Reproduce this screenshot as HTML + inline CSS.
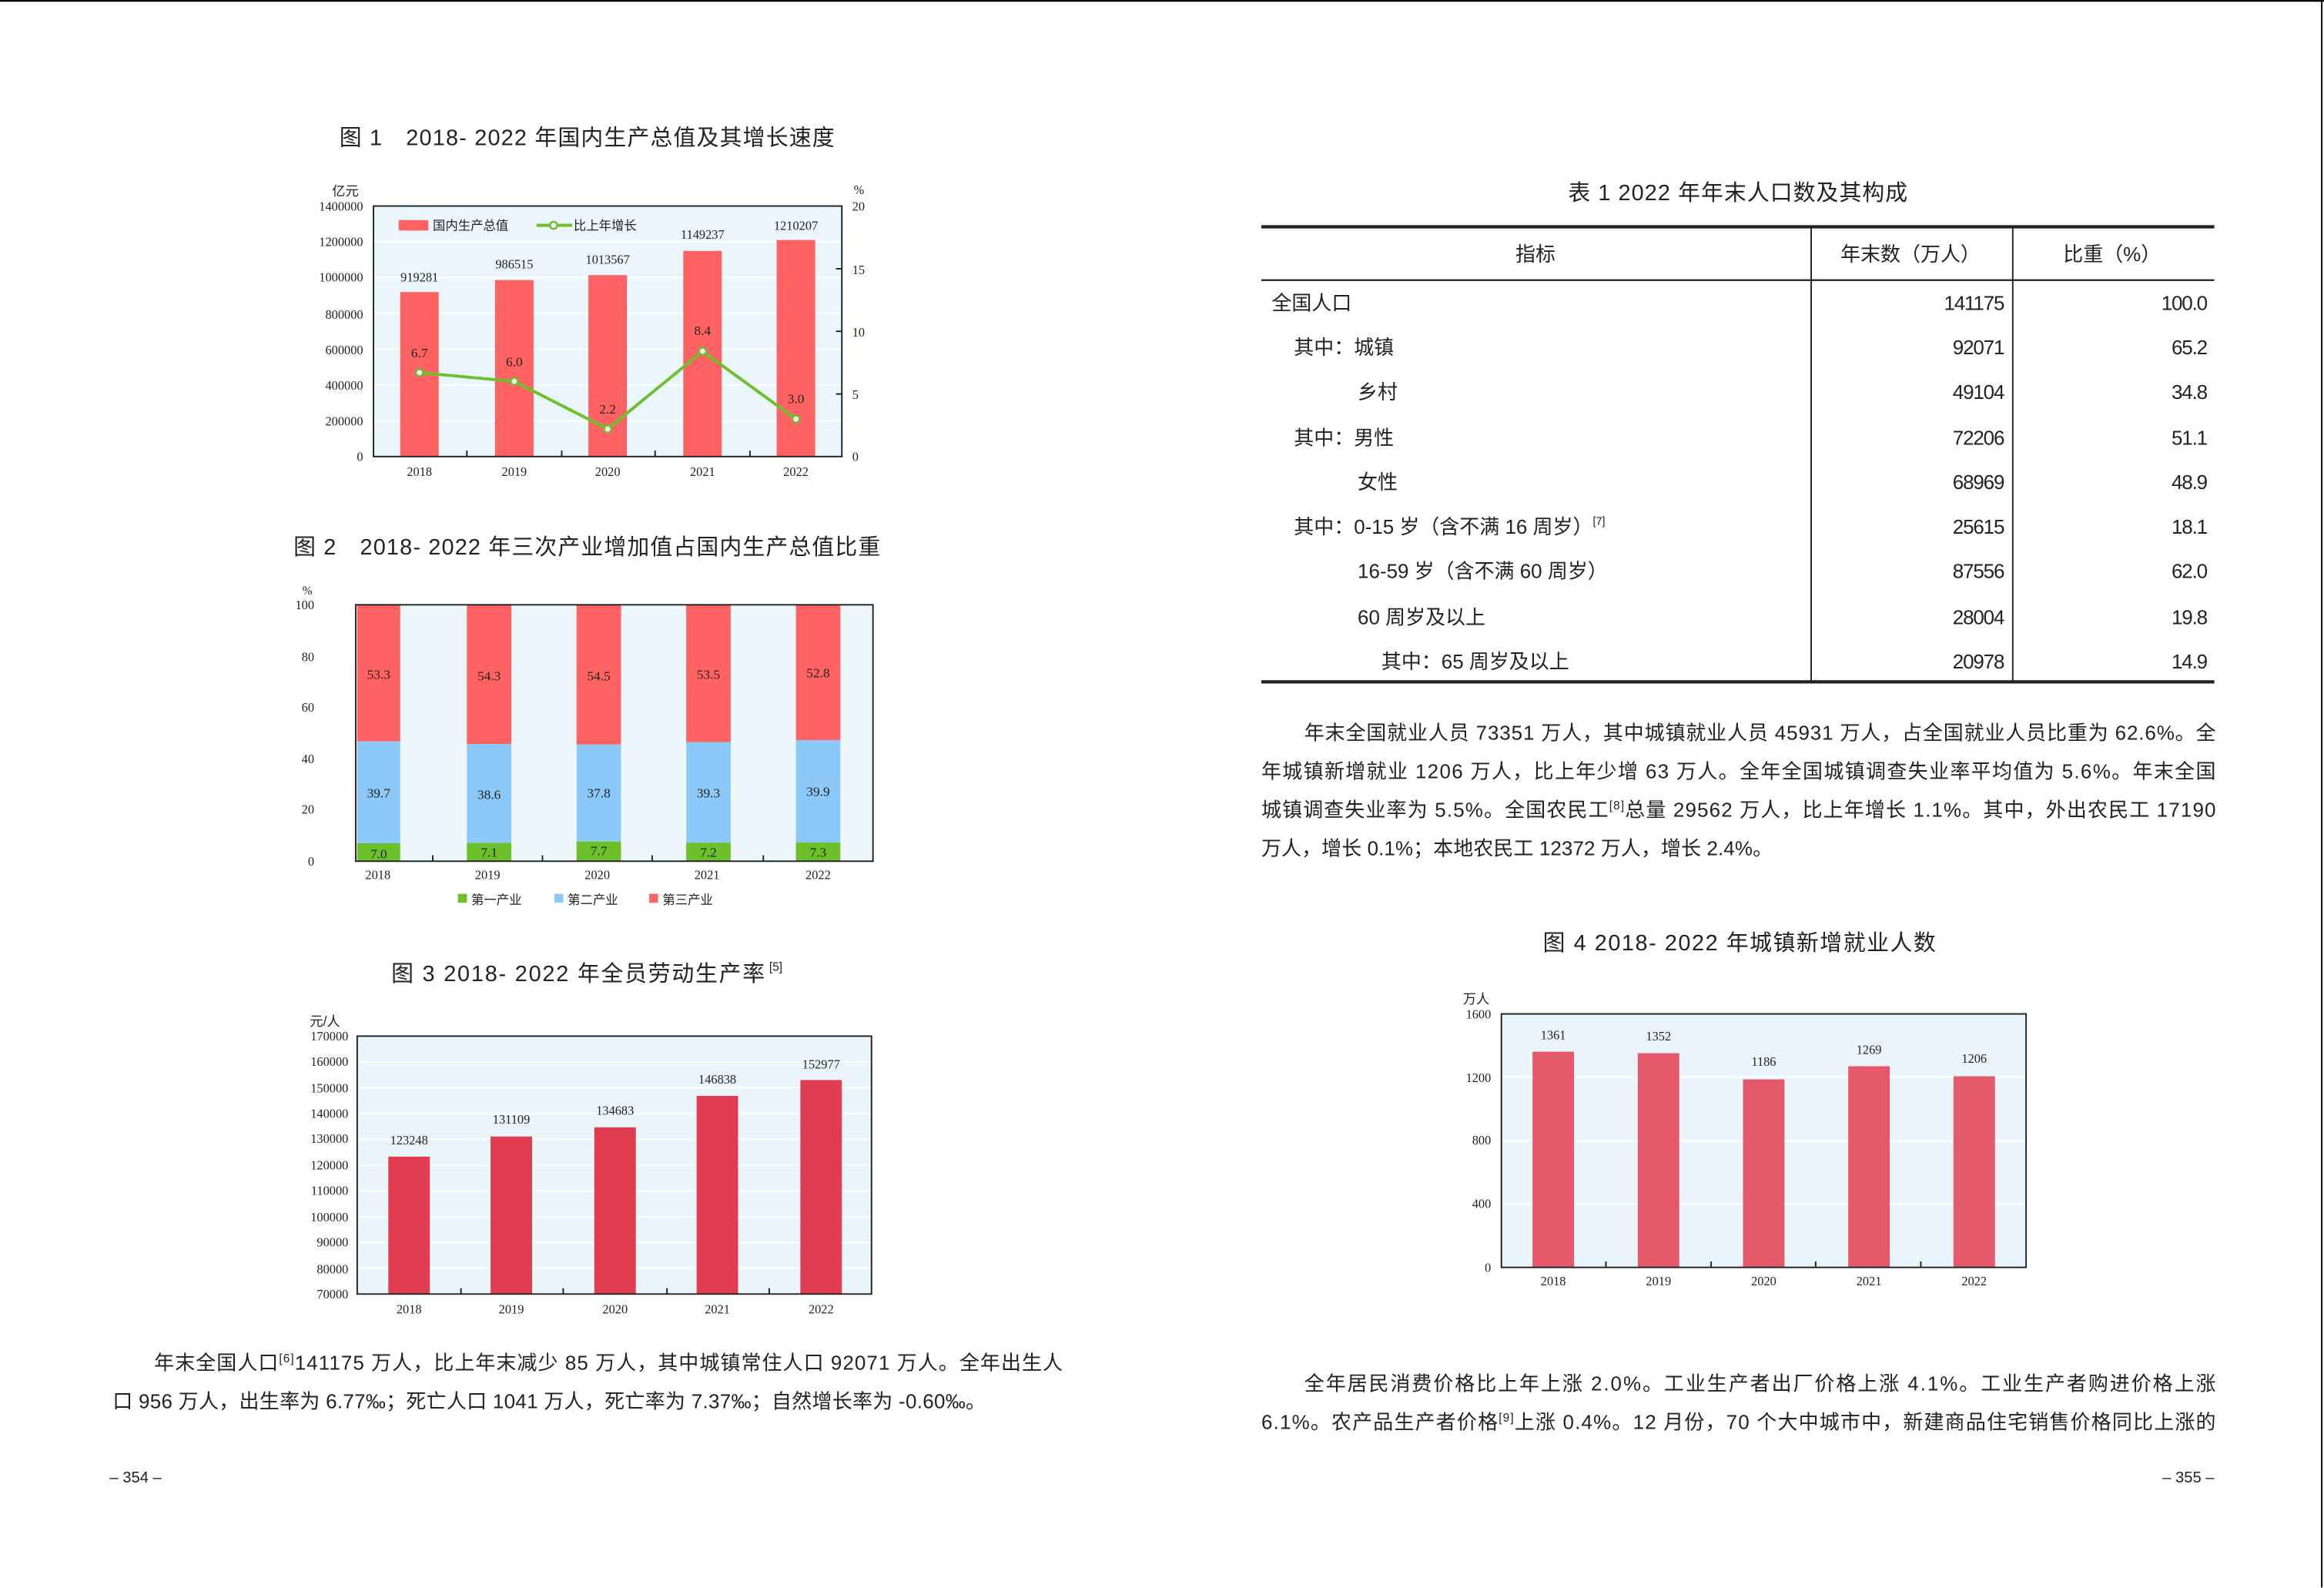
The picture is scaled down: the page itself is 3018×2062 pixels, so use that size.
<!DOCTYPE html>
<html><head><meta charset="utf-8"><style>
html,body{margin:0;padding:0;background:#fff;}
svg{display:block;}
.t{font-family:"Liberation Sans","Noto Sans CJK SC",sans-serif;fill:#222;}
.s{font-family:"Liberation Serif","Noto Serif CJK SC",serif;fill:#222;}
</style></head><body>
<svg width="3018" height="2062" viewBox="0 0 1568 1071.3" preserveAspectRatio="none" xmlns="http://www.w3.org/2000/svg">
<rect width="1568" height="1071.3" fill="#fff"/>
<line x1="0" y1="0.6" x2="1568" y2="0.6" stroke="#000" stroke-width="1.2"/>
<line x1="1566.5" y1="0" x2="1566.5" y2="1071" stroke="#000" stroke-width="1"/>

<!-- Fig 1 -->
<text class="t" x="229" y="98" font-size="15" textLength="334" lengthAdjust="spacing">图 1　2018- 2022 年国内生产总值及其增长速度</text>
<rect x="252" y="139" width="316" height="169" fill="#eaf6fb"/>
<g stroke="#fff" stroke-width="1.2">
<line x1="252" x2="568" y1="283.9" y2="283.9"/><line x1="252" x2="568" y1="259.7" y2="259.7"/>
<line x1="252" x2="568" y1="235.6" y2="235.6"/><line x1="252" x2="568" y1="211.4" y2="211.4"/>
<line x1="252" x2="568" y1="187.3" y2="187.3"/><line x1="252" x2="568" y1="163.1" y2="163.1"/>
</g>
<g fill="#ff6262">
<rect x="270" y="197" width="26" height="111"/>
<rect x="334" y="188.9" width="26" height="119.1"/>
<rect x="397" y="185.6" width="26" height="122.4"/>
<rect x="461" y="169.3" width="26" height="138.7"/>
<rect x="524" y="161.9" width="26" height="146.1"/>
</g>
<rect x="252" y="139" width="316" height="169" fill="none" stroke="#222" stroke-width="1"/>
<g stroke="#222" stroke-width="1">
<line x1="315" x2="315" y1="308" y2="304"/><line x1="379" x2="379" y1="308" y2="304"/>
<line x1="442" x2="442" y1="308" y2="304"/><line x1="506" x2="506" y1="308" y2="304"/>
<line x1="568" x2="564" y1="265.8" y2="265.8"/><line x1="568" x2="564" y1="223.5" y2="223.5"/><line x1="568" x2="564" y1="181.3" y2="181.3"/>
</g>
<polyline points="283,251.4 347,257.3 410,289.4 474,237 537,282.7" fill="none" stroke="#6cc02a" stroke-width="2"/>
<g fill="#fff" stroke="#6cc02a" stroke-width="1.3">
<circle cx="283" cy="251.4" r="2.4"/><circle cx="347" cy="257.3" r="2.4"/><circle cx="410" cy="289.4" r="2.4"/><circle cx="474" cy="237" r="2.4"/><circle cx="537" cy="282.7" r="2.4"/>
</g>
<g class="s" font-size="9" text-anchor="middle">
<text x="283" y="241">6.7</text><text x="347" y="247">6.0</text><text x="410" y="279">2.2</text><text x="474" y="226">8.4</text><text x="537" y="272">3.0</text>
</g>
<g class="s" font-size="8.5" text-anchor="middle">
<text x="283" y="190">919281</text><text x="347" y="181">986515</text><text x="410" y="178">1013567</text><text x="474" y="161">1149237</text><text x="537" y="155">1210207</text>
<text x="283" y="321">2018</text><text x="347" y="321">2019</text><text x="410" y="321">2020</text><text x="474" y="321">2021</text><text x="537" y="321">2022</text>
</g>
<g class="s" font-size="8.5" text-anchor="end">
<text x="245" y="311">0</text><text x="245" y="287">200000</text><text x="245" y="263">400000</text><text x="245" y="239">600000</text><text x="245" y="215">800000</text><text x="245" y="190">1000000</text><text x="245" y="166">1200000</text><text x="245" y="142">1400000</text>
</g>
<g class="s" font-size="8.5">
<text x="575" y="311">0</text><text x="575" y="269">5</text><text x="575" y="227">10</text><text x="575" y="185">15</text><text x="575" y="142">20</text>
<text x="576" y="131">%</text>
</g>
<text class="t" x="224" y="132" font-size="9">亿元</text>
<rect x="269" y="148.5" width="20" height="7" fill="#ff6262"/>
<text class="t" x="292" y="155" font-size="8.5">国内生产总值</text>
<line x1="362" x2="386" y1="152" y2="152" stroke="#6cc02a" stroke-width="2"/>
<circle cx="373.5" cy="152" r="2.4" fill="#fff" stroke="#6cc02a" stroke-width="1.3"/>
<text class="t" x="387" y="155" font-size="8.5">比上年增长</text>

<!-- Fig 2 -->
<text class="t" x="198" y="374" font-size="15" textLength="396" lengthAdjust="spacing">图 2　2018- 2022 年三次产业增加值占国内生产总值比重</text>
<rect x="240" y="408" width="349" height="173" fill="#eef8fc"/>
<g fill="#ff6262">
<rect x="241" y="408" width="29" height="92.2"/><rect x="315" y="408" width="30" height="93.9"/><rect x="389" y="408" width="30" height="94.3"/><rect x="463" y="408" width="30" height="92.6"/><rect x="537" y="408" width="30" height="91.3"/>
</g>
<g fill="#8cc8f8">
<rect x="241" y="500.2" width="29" height="68.7"/><rect x="315" y="501.9" width="30" height="66.8"/><rect x="389" y="502.3" width="30" height="65.4"/><rect x="463" y="500.6" width="30" height="67.9"/><rect x="537" y="499.3" width="30" height="69.1"/>
</g>
<g fill="#6cc02a">
<rect x="241" y="568.9" width="29" height="12.1"/><rect x="315" y="568.7" width="30" height="12.3"/><rect x="389" y="567.7" width="30" height="13.3"/><rect x="463" y="568.5" width="30" height="12.5"/><rect x="537" y="568.4" width="30" height="12.6"/>
</g>
<rect x="240" y="408" width="349" height="173" fill="none" stroke="#222" stroke-width="1"/>
<g stroke="#222" stroke-width="1">
<line x1="292" x2="292" y1="581" y2="577"/><line x1="366" x2="366" y1="581" y2="577"/><line x1="440" x2="440" y1="581" y2="577"/><line x1="515" x2="515" y1="581" y2="577"/>
</g>
<g class="s" font-size="9" text-anchor="middle" fill="#222">
<text x="255.5" y="458">53.3</text><text x="330" y="459">54.3</text><text x="404" y="459">54.5</text><text x="478" y="458">53.5</text><text x="552" y="457">52.8</text>
<text x="255.5" y="538">39.7</text><text x="330" y="539">38.6</text><text x="404" y="538">37.8</text><text x="478" y="538">39.3</text><text x="552" y="537">39.9</text>
<text x="255.5" y="579">7.0</text><text x="330" y="578">7.1</text><text x="404" y="577">7.7</text><text x="478" y="578">7.2</text><text x="552" y="578">7.3</text>
</g>
<g class="s" font-size="8.5" text-anchor="middle">
<text x="255" y="593">2018</text><text x="329" y="593">2019</text><text x="403" y="593">2020</text><text x="477" y="593">2021</text><text x="552" y="593">2022</text>
</g>
<g class="s" font-size="8.5" text-anchor="end">
<text x="212" y="584">0</text><text x="212" y="549">20</text><text x="212" y="515">40</text><text x="212" y="480">60</text><text x="212" y="446">80</text><text x="212" y="411">100</text>
</g>
<text class="s" x="204" y="401" font-size="8">%</text>
<rect x="309" y="603" width="6" height="6" fill="#6cc02a"/><text class="t" x="318" y="610" font-size="8.5">第一产业</text>
<rect x="374" y="603" width="6" height="6" fill="#8cc8f8"/><text class="t" x="383" y="610" font-size="8.5">第二产业</text>
<rect x="438" y="603" width="6" height="6" fill="#ff6262"/><text class="t" x="447" y="610" font-size="8.5">第三产业</text>

<!-- Fig 3 -->
<text class="t" x="264" y="662" font-size="15" textLength="252" lengthAdjust="spacing">图 3  2018- 2022 年全员劳动生产率</text>
<text class="t" x="519" y="655" font-size="8">[5]</text>
<rect x="241" y="699" width="347" height="174" fill="#eaf4fb"/>
<g stroke="#fff" stroke-width="1.2">
<line x1="241" x2="588" y1="855.6" y2="855.6"/><line x1="241" x2="588" y1="838.2" y2="838.2"/><line x1="241" x2="588" y1="820.8" y2="820.8"/><line x1="241" x2="588" y1="803.4" y2="803.4"/><line x1="241" x2="588" y1="786" y2="786"/><line x1="241" x2="588" y1="768.6" y2="768.6"/><line x1="241" x2="588" y1="751.2" y2="751.2"/><line x1="241" x2="588" y1="733.8" y2="733.8"/><line x1="241" x2="588" y1="716.4" y2="716.4"/>
</g>
<g fill="#e23c50">
<rect x="262" y="780.3" width="28" height="92.7"/><rect x="331" y="766.7" width="28" height="106.3"/><rect x="401" y="760.5" width="28" height="112.5"/><rect x="470" y="739.3" width="28" height="133.7"/><rect x="540" y="728.6" width="28" height="144.4"/>
</g>
<rect x="241" y="699" width="347" height="174" fill="none" stroke="#222" stroke-width="1"/>
<g stroke="#222" stroke-width="1">
<line x1="311" x2="311" y1="873" y2="869"/><line x1="380" x2="380" y1="873" y2="869"/><line x1="450" x2="450" y1="873" y2="869"/><line x1="519" x2="519" y1="873" y2="869"/>
</g>
<g class="s" font-size="8.5" text-anchor="middle">
<text x="276" y="772">123248</text><text x="345" y="758">131109</text><text x="415" y="752">134683</text><text x="484" y="731">146838</text><text x="554" y="721">152977</text>
<text x="276" y="886">2018</text><text x="345" y="886">2019</text><text x="415" y="886">2020</text><text x="484" y="886">2021</text><text x="554" y="886">2022</text>
</g>
<g class="s" font-size="8.5" text-anchor="end">
<text x="235" y="876">70000</text><text x="235" y="859">80000</text><text x="235" y="841">90000</text><text x="235" y="824">100000</text><text x="235" y="806">110000</text><text x="235" y="789">120000</text><text x="235" y="771">130000</text><text x="235" y="754">140000</text><text x="235" y="737">150000</text><text x="235" y="719">160000</text><text x="235" y="702">170000</text>
</g>
<text class="t" x="209" y="692" font-size="9">元/人</text>

<!-- left paragraph -->
<text class="t" font-size="13.5" y="924" x="104" textLength="613" lengthAdjust="spacing">年末全国人口<tspan font-size="8" dy="-5">[6]</tspan><tspan dy="5">141175 万人，比上年末减少 85 万人，其中城镇常住人口 92071 万人。全年出生人</tspan></text>
<text class="t" font-size="13.5" y="950" x="76" textLength="589" lengthAdjust="spacing">口 956 万人，出生率为 6.77‰；死亡人口 1041 万人，死亡率为 7.37‰；自然增长率为 -0.60‰。</text>
<text class="t" font-size="10.5" x="74" y="1000">– 354 –</text>

<!-- Table -->
<text class="t" x="1058" y="135" font-size="15" textLength="229" lengthAdjust="spacing">表 1 2022 年年末人口数及其构成</text>
<line x1="851" x2="1494" y1="153" y2="153" stroke="#222" stroke-width="2.2"/>
<line x1="851" x2="1494" y1="189" y2="189" stroke="#222" stroke-width="1.2"/>
<line x1="851" x2="1494" y1="460" y2="460" stroke="#222" stroke-width="2.2"/>
<line x1="1222" x2="1222" y1="153" y2="460" stroke="#222" stroke-width="1"/>
<line x1="1358" x2="1358" y1="153" y2="460" stroke="#222" stroke-width="1"/>
<g class="t" font-size="13.5">
<text x="1036" y="176" text-anchor="middle">指标</text>
<text x="1289" y="176" text-anchor="middle">年末数（万人）</text>
<text x="1425" y="176" text-anchor="middle">比重（%）</text>
<text x="858" y="209">全国人口</text>
<text x="873" y="239">其中：城镇</text>
<text x="916" y="269">乡村</text>
<text x="873" y="300">其中：男性</text>
<text x="916" y="330">女性</text>
<text x="873" y="360">其中：0-15 岁（含不满 16 周岁）<tspan font-size="7.5" dy="-6">[7]</tspan></text>
<text x="916" y="390">16-59 岁（含不满 60 周岁）</text>
<text x="916" y="421">60 周岁及以上</text>
<text x="932" y="451">其中：65 周岁及以上</text>
</g>
<g class="t" font-size="13.5" text-anchor="end" letter-spacing="-0.6">
<text x="1352" y="209">141175</text><text x="1352" y="239">92071</text><text x="1352" y="269">49104</text><text x="1352" y="300">72206</text><text x="1352" y="330">68969</text><text x="1352" y="360">25615</text><text x="1352" y="390">87556</text><text x="1352" y="421">28004</text><text x="1352" y="451">20978</text>
<text x="1489" y="209">100.0</text><text x="1489" y="239">65.2</text><text x="1489" y="269">34.8</text><text x="1489" y="300">51.1</text><text x="1489" y="330">48.9</text><text x="1489" y="360">18.1</text><text x="1489" y="390">62.0</text><text x="1489" y="421">19.8</text><text x="1489" y="451">14.9</text>
</g>

<!-- right paragraph -->
<g class="t" font-size="13.5">
<text y="499" x="880" textLength="615" lengthAdjust="spacing">年末全国就业人员 73351 万人，其中城镇就业人员 45931 万人，占全国就业人员比重为 62.6%。全</text>
<text y="525" x="851" textLength="644" lengthAdjust="spacing">年城镇新增就业 1206 万人，比上年少增 63 万人。全年全国城镇调查失业率平均值为 5.6%。年末全国</text>
<text y="551" x="851" textLength="644" lengthAdjust="spacing">城镇调查失业率为 5.5%。全国农民工<tspan font-size="8" dy="-5">[8]</tspan><tspan dy="5">总量 29562 万人，比上年增长 1.1%。其中，外出农民工 17190</tspan></text>
<text y="577" x="851" textLength="345" lengthAdjust="spacing">万人，增长 0.1%；本地农民工 12372 万人，增长 2.4%。</text>
<text y="938" x="880" textLength="615" lengthAdjust="spacing">全年居民消费价格比上年上涨 2.0%。工业生产者出厂价格上涨 4.1%。工业生产者购进价格上涨</text>
<text y="964" x="851" textLength="644" lengthAdjust="spacing">6.1%。农产品生产者价格<tspan font-size="8" dy="-5">[9]</tspan><tspan dy="5">上涨 0.4%。12 月份，70 个大中城市中，新建商品住宅销售价格同比上涨的</tspan></text>
</g>
<text class="t" font-size="10.5" x="1459" y="1000">– 355 –</text>

<!-- Fig 4 -->
<text class="t" x="1041" y="641" font-size="15" textLength="265" lengthAdjust="spacing">图 4  2018- 2022 年城镇新增就业人数</text>
<rect x="1013" y="684" width="354" height="171" fill="#eaf4fb"/>
<g stroke="#fff" stroke-width="1.2">
<line x1="1013" x2="1367" y1="812.3" y2="812.3"/><line x1="1013" x2="1367" y1="769.5" y2="769.5"/><line x1="1013" x2="1367" y1="726.8" y2="726.8"/>
</g>
<g fill="#e55a6a">
<rect x="1034" y="709.5" width="28" height="145.5"/><rect x="1105" y="710.5" width="28" height="144.5"/><rect x="1176" y="728.2" width="28" height="126.8"/><rect x="1247" y="719.3" width="28" height="135.7"/><rect x="1318" y="726.1" width="28" height="128.9"/>
</g>
<rect x="1013" y="684" width="354" height="171" fill="none" stroke="#222" stroke-width="1"/>
<g stroke="#222" stroke-width="1">
<line x1="1083.5" x2="1083.5" y1="855" y2="851"/><line x1="1154.5" x2="1154.5" y1="855" y2="851"/><line x1="1225" x2="1225" y1="855" y2="851"/><line x1="1296" x2="1296" y1="855" y2="851"/>
</g>
<g class="s" font-size="8.5" text-anchor="middle">
<text x="1048" y="701">1361</text><text x="1119" y="702">1352</text><text x="1190" y="719">1186</text><text x="1261" y="711">1269</text><text x="1332" y="717">1206</text>
<text x="1048" y="867">2018</text><text x="1119" y="867">2019</text><text x="1190" y="867">2020</text><text x="1261" y="867">2021</text><text x="1332" y="867">2022</text>
</g>
<g class="s" font-size="8.5" text-anchor="end">
<text x="1006" y="858">0</text><text x="1006" y="815">400</text><text x="1006" y="772">800</text><text x="1006" y="730">1200</text><text x="1006" y="687">1600</text>
</g>
<text class="t" x="987" y="677" font-size="9">万人</text>
</svg>
</body></html>
